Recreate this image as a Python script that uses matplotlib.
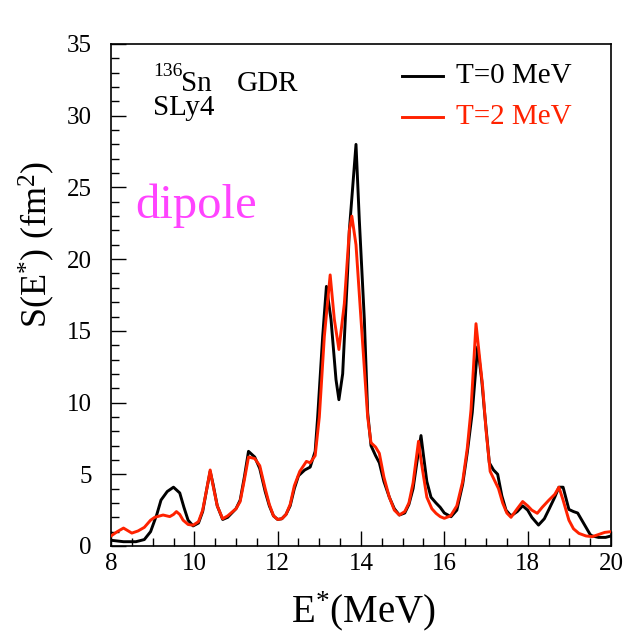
import matplotlib
matplotlib.use("Agg")
import matplotlib.pyplot as plt
from matplotlib.ticker import MultipleLocator

E_T0 = [8.0, 8.3, 8.6, 8.8, 8.95, 9.1, 9.2, 9.35, 9.5, 9.65, 9.75, 9.85, 9.97, 10.1, 10.2, 10.3,
        10.38, 10.45, 10.55, 10.68, 10.8, 11.0, 11.1, 11.2, 11.3, 11.45, 11.57, 11.7, 11.8, 11.9,
        12.0, 12.1, 12.2, 12.3, 12.4, 12.5, 12.65, 12.78, 12.9, 12.96, 13.08, 13.17, 13.28, 13.4,
        13.47, 13.56, 13.68, 13.72, 13.8, 13.88, 13.96, 14.08, 14.16, 14.24, 14.35, 14.44, 14.55,
        14.68, 14.8, 14.92, 15.05, 15.15, 15.25, 15.35, 15.44, 15.5, 15.58, 15.68, 15.8, 15.9,
        16.0, 16.16, 16.3, 16.44, 16.55, 16.67, 16.8, 16.9, 16.96, 17.08, 17.18, 17.28, 17.38,
        17.48, 17.6, 17.75, 17.88, 18.0, 18.1, 18.26, 18.4, 18.51, 18.65, 18.75, 18.85, 18.99,
        19.1, 19.2, 19.3, 19.39, 19.5, 19.55, 19.7, 19.87, 20.0]
S_T0 = [0.4, 0.3, 0.3, 0.45, 1.0, 2.2, 3.2, 3.8, 4.1, 3.7, 2.7, 1.8, 1.4, 1.6, 2.4, 4.0,
        5.2, 4.3, 2.8, 1.85, 2.0, 2.6, 3.2, 4.8, 6.6, 6.2, 5.4, 3.8, 2.8, 2.1,
        1.85, 1.9, 2.2, 2.8, 4.0, 4.9, 5.3, 5.5, 6.6, 9.0, 14.6, 18.1, 15.8, 11.6,
        10.2, 12.0, 19.2, 22.0, 25.0, 28.0, 22.7, 15.8, 9.3, 7.0, 6.3, 5.8, 4.5,
        3.4, 2.6, 2.16, 2.3, 2.9, 4.0, 6.0, 7.7, 6.3, 4.5, 3.4, 3.0, 2.7,
        2.3, 2.04, 2.5, 4.3, 6.5, 9.3, 13.9, 11.5, 9.5, 5.8, 5.3, 5.0, 3.5,
        2.5, 2.1, 2.4, 2.8, 2.5, 2.0, 1.46, 1.9, 2.55, 3.4, 4.1, 4.1, 2.55,
        2.4, 2.3, 1.8, 1.35, 0.8, 0.7, 0.6, 0.6, 0.7]

E_T2 = [8.0, 8.15, 8.3, 8.5, 8.65, 8.8, 8.95, 9.05, 9.25, 9.41, 9.5, 9.57, 9.65, 9.73, 9.85,
        9.97, 10.1, 10.2, 10.3, 10.38, 10.45, 10.55, 10.68, 10.8, 11.0, 11.1, 11.2, 11.3, 11.45,
        11.57, 11.7, 11.8, 11.9, 12.0, 12.1, 12.2, 12.3, 12.4, 12.53, 12.69, 12.78, 12.9, 13.0,
        13.12, 13.26, 13.36, 13.47, 13.6, 13.72, 13.78, 13.88, 14.0, 14.16, 14.24, 14.35, 14.44,
        14.55, 14.68, 14.8, 14.92, 15.05, 15.15, 15.25, 15.38, 15.45, 15.58, 15.7, 15.8, 15.9,
        16.0, 16.15, 16.3, 16.44, 16.55, 16.64, 16.76, 16.92, 17.0, 17.1, 17.2, 17.3, 17.4,
        17.5, 17.6, 17.75, 17.88, 18.0, 18.1, 18.23, 18.35, 18.51, 18.65, 18.75, 18.85, 18.99,
        19.1, 19.23, 19.4, 19.55, 19.7, 19.85, 20.0]
S_T2 = [0.7, 1.0, 1.25, 0.9, 1.05, 1.3, 1.8, 2.0, 2.16, 2.05, 2.2, 2.4, 2.2, 1.8, 1.5,
        1.45, 1.7, 2.5, 4.0, 5.3, 4.2, 2.8, 1.9, 2.1, 2.6, 3.1, 4.6, 6.2, 6.1,
        5.6, 4.0, 2.9, 2.1, 1.85, 1.9, 2.2, 2.9, 4.2, 5.2, 5.9, 5.8, 6.3, 9.0,
        14.6, 18.9, 15.8, 13.7, 16.9, 22.0, 23.0, 21.0, 15.8, 9.0, 7.2, 6.9, 6.46,
        4.8, 3.4, 2.5, 2.16, 2.4, 3.0, 4.4, 7.3, 5.8, 3.4, 2.6, 2.28, 2.05,
        1.93, 2.1, 2.8, 4.5, 6.8, 9.5, 15.5, 11.1, 8.1, 5.2, 4.6, 4.0, 3.0,
        2.3, 2.0, 2.6, 3.1, 2.8, 2.5, 2.28, 2.7, 3.2, 3.6, 4.1, 3.2, 1.8,
        1.2, 0.88, 0.7, 0.65, 0.8, 0.95, 1.0]

x_ticks = [8, 10, 12, 14, 16, 18, 20]
y_ticks = [0, 5, 10, 15, 20, 25, 30, 35]
labels = ["T=0 MeV", "T=2 MeV"]

plt.rcParams['font.family'] = ['Liberation Serif', 'DejaVu Serif']
plt.rcParams['mathtext.fontset'] = 'custom'
plt.rcParams['mathtext.rm'] = 'Liberation Serif'
plt.rcParams['mathtext.it'] = 'Liberation Serif'

fig = plt.figure(figsize=(6.29, 6.36), dpi=100)
ax = fig.add_axes([111/629, 90/636, 500/629, 502/636])

red = '#ff2200'
ax.plot(E_T0, S_T0, color='black', lw=2.1, label=labels[0], zorder=3)
ax.plot(E_T2, S_T2, color=red, lw=2.1, label=labels[1], zorder=4)

ax.set_xlim(8, 20)
ax.set_ylim(0, 35)
ax.set_xticks(x_ticks)
ax.set_yticks(y_ticks)
ax.xaxis.set_minor_locator(MultipleLocator(0.5))
ax.yaxis.set_minor_locator(MultipleLocator(1))
ax.tick_params(which='both', direction='in', top=False, right=False, labelsize=18, width=1)
ax.tick_params(which='major', length=11)
ax.tick_params(axis='x', which='major', pad=5)
ax.tick_params(axis='y', which='major', pad=14)
ax.tick_params(which='minor', length=6)
for s in ax.spines.values():
    s.set_linewidth(1.2)

ax.set_xlabel(r'E$^{*}$(MeV)', fontsize=28)
ax.set_ylabel(r'S(E$^{*}$) (fm$^{2}$)', fontsize=26)
ax.xaxis.set_label_coords(0.504, -0.086)
ax.yaxis.set_label_coords(-0.108, 0.60)

def ax_x(px):
    return (px - 111) / 500

def ax_y(py):
    return (546 - py) / 502

ax.plot([ax_x(402), ax_x(443)], [ax_y(76)] * 2, transform=ax.transAxes, color='black', lw=2.1)
ax.plot([ax_x(402), ax_x(443)], [ax_y(117)] * 2, transform=ax.transAxes, color=red, lw=2.1)
ax.text(ax_x(456), ax_y(76), labels[0], transform=ax.transAxes, fontsize=21,
        va='center', ha='left', color='black')
ax.text(ax_x(456), ax_y(117), labels[1], transform=ax.transAxes, fontsize=21,
        va='center', ha='left', color=red)

ax.text(ax_x(153), ax_y(76), '136', transform=ax.transAxes, fontsize=14, va='baseline', ha='left')
ax.text(ax_x(181), ax_y(91), 'Sn', transform=ax.transAxes, fontsize=21, va='baseline', ha='left')
ax.text(ax_x(237), ax_y(91), 'GDR', transform=ax.transAxes, fontsize=21, va='baseline', ha='left')
ax.text(ax_x(153), ax_y(115), 'SLy4', transform=ax.transAxes, fontsize=21, va='baseline', ha='left')
ax.text(ax_x(135), ax_y(218), 'dipole', transform=ax.transAxes,
        fontsize=35, va='baseline', ha='left', color='#ff44ff')

fig.savefig('out.png', dpi=100)
